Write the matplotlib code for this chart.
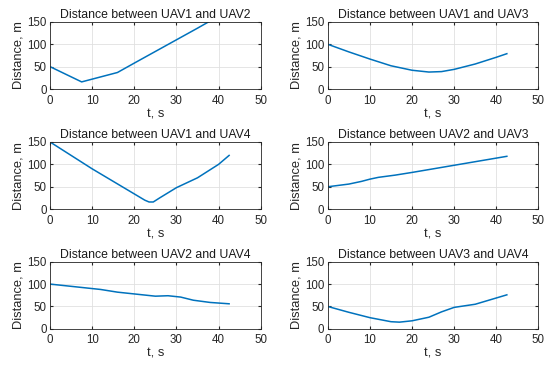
import matplotlib.pyplot as plt

plt.rcParams['font.family'] = ['Liberation Sans', 'DejaVu Sans']

# distances between UAV pairs over time
titles = ['Distance between UAV1 and UAV2', 'Distance between UAV1 and UAV3',
          'Distance between UAV1 and UAV4', 'Distance between UAV2 and UAV3',
          'Distance between UAV2 and UAV4', 'Distance between UAV3 and UAV4']

t12 = [0, 7.5, 16, 20, 25, 30, 35, 38, 42.5]
d12 = [50, 16, 37, 58, 84, 110, 136, 152, 175]

t13 = [0, 5, 10, 15, 20, 24, 27, 30, 35, 40, 42.5]
d13 = [100, 83, 67, 52, 42, 38, 39, 44, 56, 71, 79]

t14 = [0, 5, 10, 15, 20, 22.5, 23.5, 24.5, 26, 30, 35, 40, 42.5]
d14 = [150, 120, 90, 62, 34, 20, 16, 16, 25, 48, 70, 100, 120]

t23 = [0, 5, 8, 10, 12, 16, 20, 25, 30, 35, 40, 42.5]
d23 = [50, 56, 62, 67, 71, 76, 82, 90, 98, 106, 114, 118]

t24 = [0, 5, 10, 12, 16, 20, 25, 28, 31, 34, 38, 42.5]
d24 = [100, 95, 90, 88, 82, 78, 73, 74, 71, 64, 59, 56]

t34 = [0, 5, 10, 15, 17, 20, 24, 27, 30, 35, 40, 42.5]
d34 = [50, 37, 25, 16, 15, 18, 26, 38, 48, 55, 69, 76]

series = [(t12, d12), (t13, d13), (t14, d14), (t23, d23), (t24, d24), (t34, d34)]

fig = plt.figure(figsize=(5.5, 3.65), dpi=100)

lefts = [0.091, 0.596]
bottoms = [0.756, 0.427, 0.099]

for i, (t, d) in enumerate(series):
    ax = fig.add_axes([lefts[i % 2], bottoms[i // 2], 0.383, 0.184])
    ax.plot(t, d, color='#0072BD', linewidth=1.1)
    ax.set_xlim(0, 50)
    ax.set_ylim(0, 150)
    ax.set_xticks([0, 10, 20, 30, 40, 50])
    ax.set_yticks([0, 50, 100, 150])
    ax.grid(True, color='#e0e0e0', linewidth=0.6)
    ax.tick_params(direction='in', length=2, labelsize=8.3, colors='#262626',
                   top=True, right=True)
    ax.tick_params(axis='x', pad=4)
    ax.tick_params(axis='y', pad=2.5)
    for s in ax.spines.values():
        s.set_color('#262626')
        s.set_linewidth(0.6)
    ax.set_title(titles[i], fontsize=8.8, pad=3, color='#1a1a1a')
    ax.set_xlabel('t, s', fontsize=9.3, labelpad=1, color='#262626')
    ax.set_ylabel('Distance, m', fontsize=9.3, labelpad=2, color='#262626')

plt.savefig('out.png', dpi=100)
